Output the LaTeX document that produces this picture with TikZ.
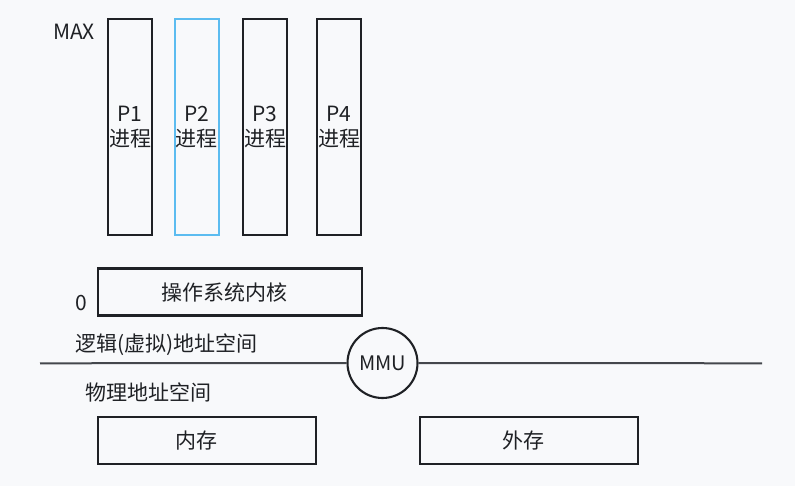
\documentclass[tikz,border=0pt]{standalone}
\usepackage{fontspec}
\setmainfont{Noto Sans CJK SC}
\definecolor{bg}{HTML}{F8F9FB}
\definecolor{ink}{HTML}{1F2125}
\definecolor{lineg}{HTML}{44474C}
\definecolor{pblue}{HTML}{5CBCF0}
\newcommand{\mytxtshift}[2]{\kern-#1pt #2\kern#1pt}
\begin{document}
\begin{tikzpicture}[x=1pt,y=-1pt,
  every node/.style={font=\fontsize{21}{25.5}\selectfont, text=ink, inner sep=0pt},
  box/.style={draw=ink, line width=2.1pt, rectangle, anchor=north west},
  proc/.style={box, minimum width=44pt, minimum height=216pt, align=center},
  lbl/.style={anchor=west}]
\fill[bg] (0,0) rectangle (795,486);
\useasboundingbox (0,0) rectangle (795,486);
\node[proc] (p1) at (107,18) {P1\\进程};
\node[proc, draw=pblue] (p2) at (173.5,18) {P2\\进程};
\node[proc] (p3) at (242,18) {P3\\进程};
\node[proc] (p4) at (316,18) {P4\\进程};
\node (max) at (74,32) {MAX};
\node (zero) at (81,303) {0};
\node[box, minimum width=264pt, minimum height=47pt] (kern) at (97,267.5) {\mytxtshift{6}{操作系统内核}};
\node[lbl] (virt) at (75,345) {逻辑(虚拟)地址空间};
\node[lbl] (phys) at (85,392) {物理地址空间};
\node[circle, draw=ink, line width=2.1pt, minimum size=70pt, font=\fontsize{20}{24}\selectfont] (mmu) at (382.5,363) {MMU};
\coordinate (la) at (40,363.3);
\coordinate (lb) at (762,363.3);
\draw[lineg, line width=2pt] (la) -- (mmu.west);
\draw[lineg, line width=2pt] (mmu.east) -- (lb);
\node[box, minimum width=218pt, minimum height=47pt] (mem) at (97,416) {\mytxtshift{11}{内存}};
\node[box, minimum width=218pt, minimum height=47pt] (disk) at (419,416) {\mytxtshift{6}{外存}};
\end{tikzpicture}
\end{document}
